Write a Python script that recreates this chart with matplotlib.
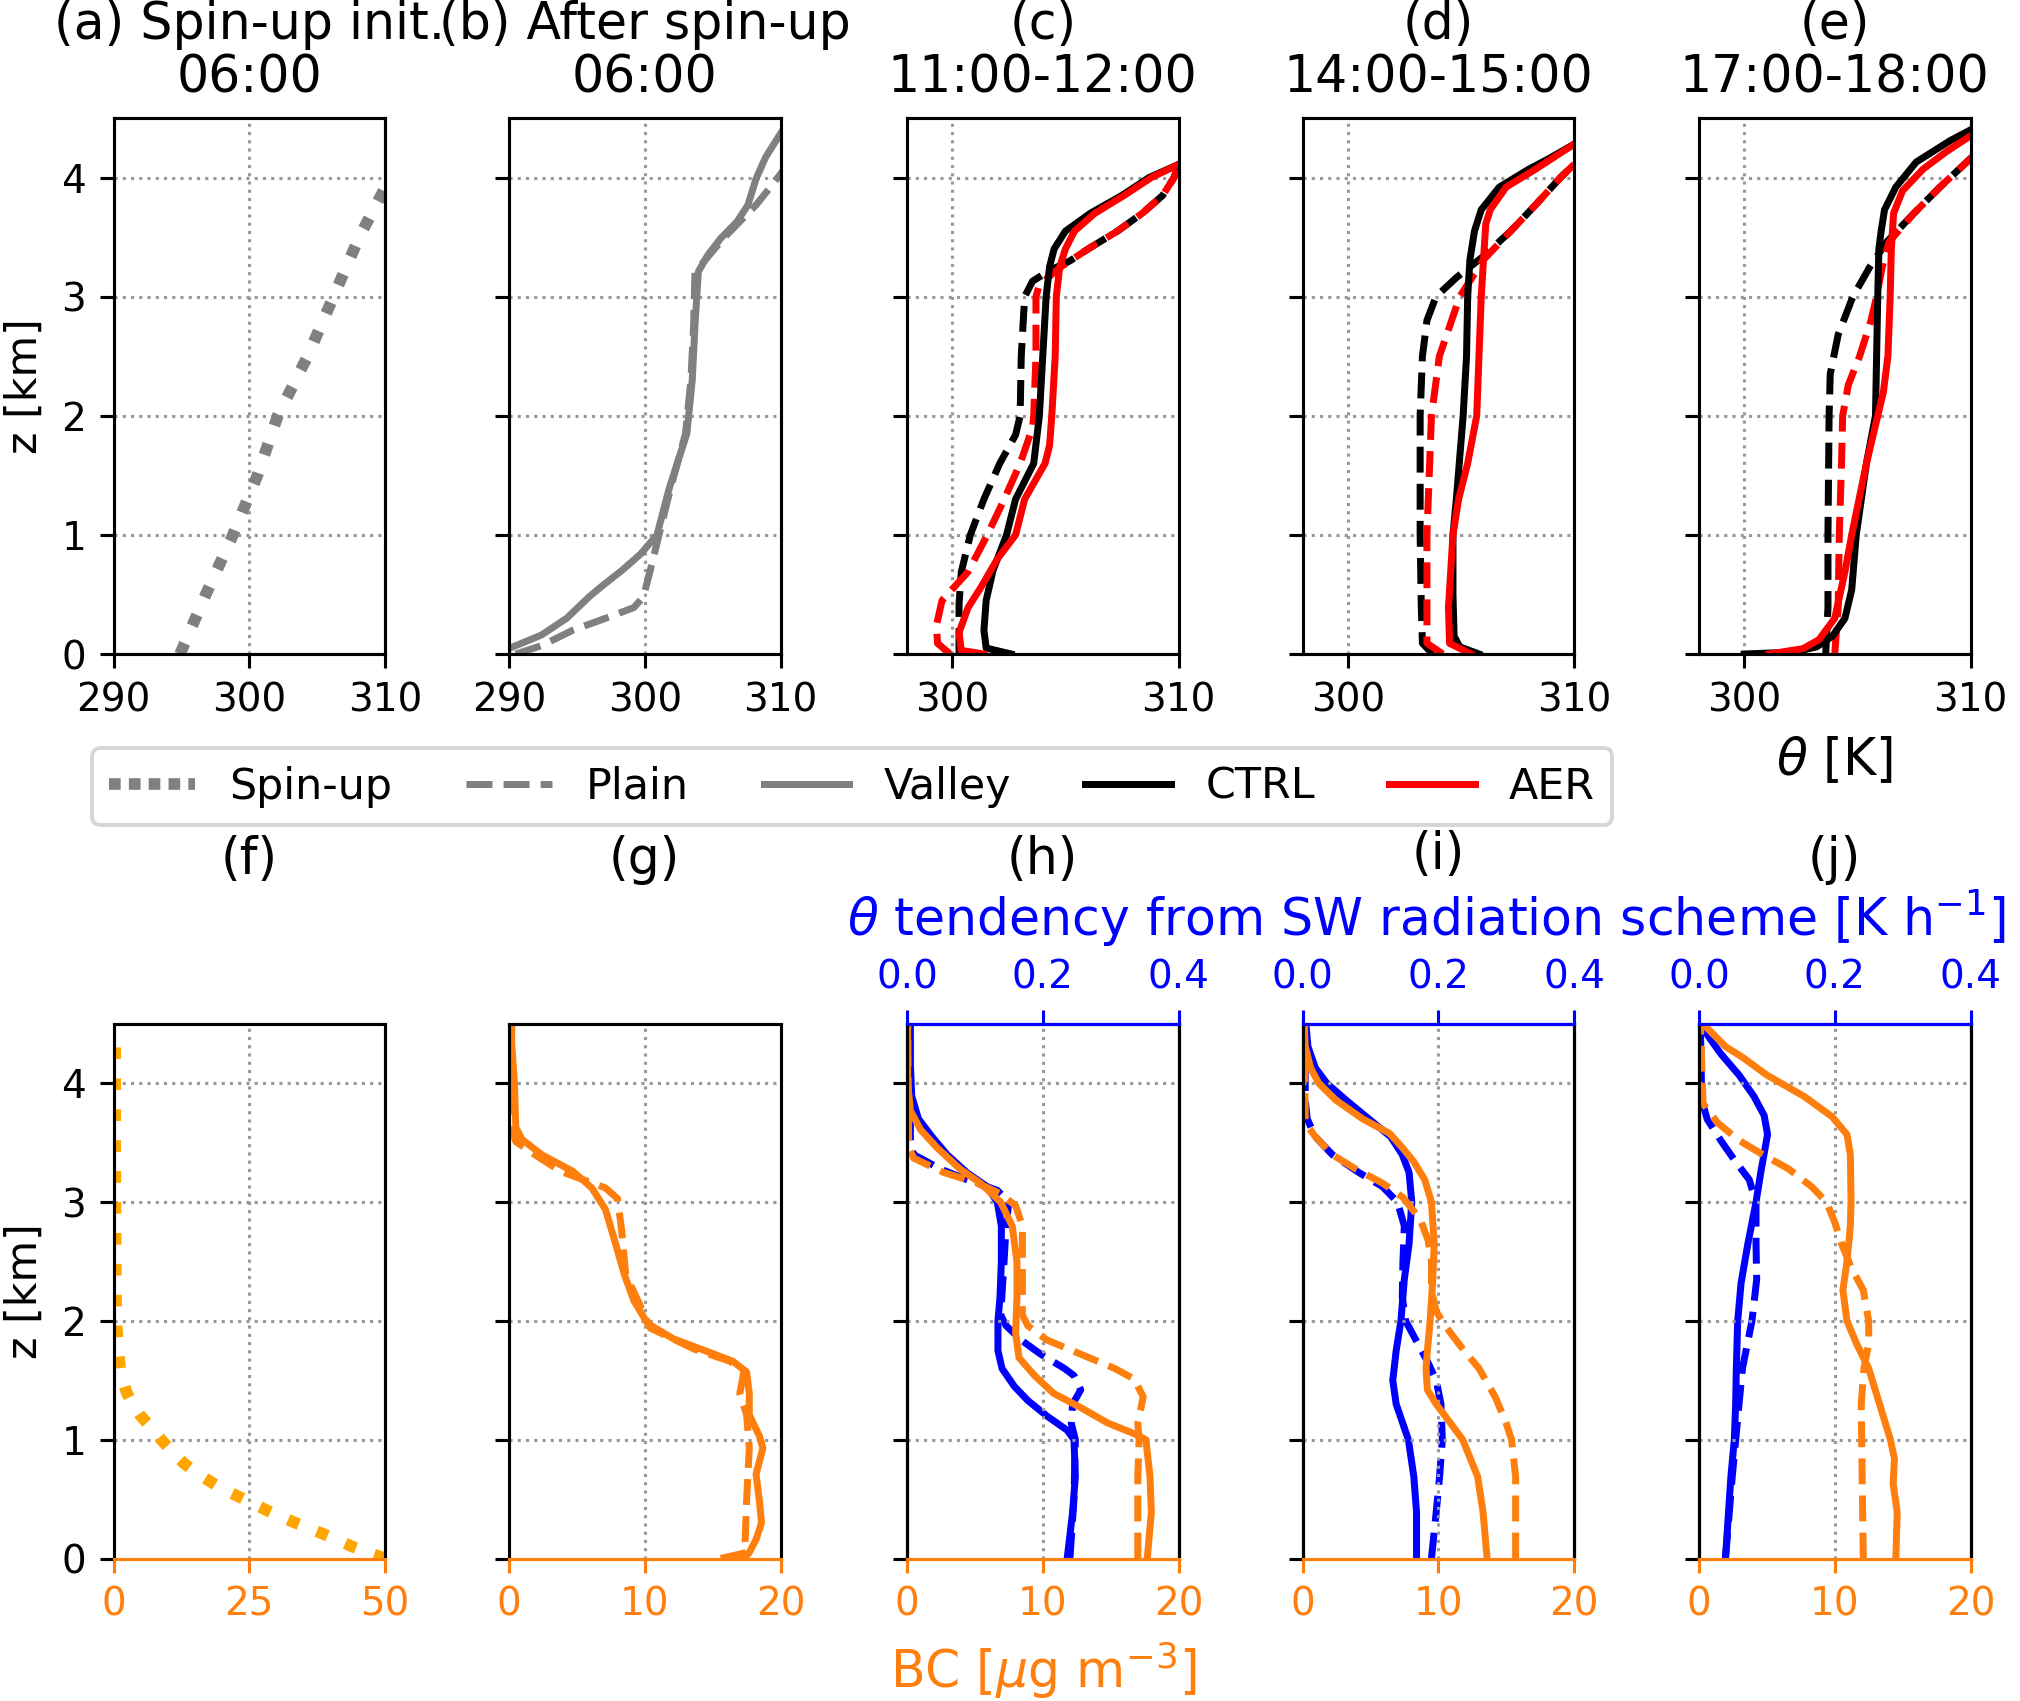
import matplotlib
matplotlib.use('Agg')
import matplotlib.pyplot as plt
from matplotlib.lines import Line2D

# ---------------- theta profiles (top row) ----------------
# (a) spin-up initial profile
a_spinup_z = [0, 0.5, 1.0, 1.5, 2.0, 2.5, 3.0, 3.5, 4.0, 4.5]
a_spinup_th = [294.9, 296.8, 298.8, 300.6, 302.1, 304.3, 306.2, 308.1, 310.4, 312.6]

# (b) after spin-up
b_valley_z = [0, 0.07, 0.16, 0.3, 0.48, 0.57, 0.7, 0.84, 1.0, 1.39, 1.85, 2.3, 2.76, 3.21,
              3.35, 3.49, 3.63, 3.77, 3.99, 4.17, 4.37, 4.5]
b_valley_th = [289.0, 290.5, 292.4, 294.25, 295.9, 296.85, 298.3, 299.7, 300.9, 301.8, 303.1,
               303.5, 303.7, 303.95, 304.65, 305.6, 306.8, 307.6, 308.2, 308.9, 310.0, 310.8]
b_plain_z = [0, 0.07, 0.2, 0.32, 0.39, 0.48, 0.7, 0.93, 1.39, 1.85, 2.3, 2.76, 3.21, 3.3,
             3.49, 3.63, 3.77, 3.94, 4.03, 4.5]
b_plain_th = [290.5, 292.4, 294.7, 297.6, 299.2, 299.9, 300.4, 300.9, 301.9, 303.0, 303.4,
              303.6, 303.7, 304.4, 305.8, 307.0, 308.2, 309.4, 310.0, 313.0]

# (c) 11:00-12:00
c_valley_ctrl_z = [0, 0.05, 0.2, 0.45, 0.7, 1.0, 1.3, 1.6, 2.0, 2.5, 3.0, 3.25, 3.4, 3.55,
                   3.7, 3.85, 4.0, 4.11, 4.5]
c_valley_ctrl_th = [302.6, 301.5, 301.4, 301.5, 301.8, 302.4, 302.8, 303.6, 303.85, 304.0,
                    304.15, 304.3, 304.5, 305.0, 306.1, 307.5, 308.7, 310.0, 314.0]
c_valley_aer_z = [0, 0.03, 0.18, 0.39, 0.57, 0.8, 1.0, 1.3, 1.6, 1.75, 2.0, 2.5, 3.0, 3.25,
                  3.4, 3.55, 3.7, 3.85, 4.0, 4.11, 4.5]
c_valley_aer_th = [301.4, 300.4, 300.3, 300.7, 301.3, 302.0, 302.8, 303.2, 304.1, 304.3,
                   304.4, 304.55, 304.6, 304.75, 305.0, 305.4, 306.3, 307.6, 308.8, 310.0, 314.0]
c_plain_ctrl_z = [0, 0.42, 0.69, 1.0, 1.3, 1.6, 1.84, 2.0, 2.5, 3.0, 3.13, 3.22, 3.3, 3.4,
                  3.55, 3.7, 3.85, 4.0, 4.1, 4.5]
c_plain_ctrl_th = [300.3, 300.3, 300.4, 300.8, 301.4, 302.1, 302.8, 303.0, 303.05, 303.2,
                   303.55, 304.3, 305.2, 306.0, 307.3, 308.4, 309.3, 309.8, 310.0, 313.0]
c_plain_aer_z = [0, 0.09, 0.24, 0.45, 0.69, 1.0, 1.3, 1.6, 1.9, 2.0, 2.5, 3.0, 3.1, 3.25,
                 3.4, 3.55, 3.7, 3.85, 4.0, 4.1, 4.5]
c_plain_aer_th = [299.9, 299.35, 299.3, 299.55, 300.7, 301.55, 302.3, 303.0, 303.55, 303.6,
                  303.7, 303.7, 303.85, 304.8, 306.0, 307.3, 308.4, 309.3, 309.8, 310.0, 313.0]

# (d) 14:00-15:00
d_valley_ctrl_z = [0, 0.06, 0.15, 0.5, 1.0, 1.3, 2.0, 2.5, 3.0, 3.31, 3.55, 3.73, 3.92,
                   4.07, 4.16, 4.28, 4.5]
d_valley_ctrl_th = [305.8, 304.95, 304.7, 304.65, 304.65, 304.8, 305.1, 305.25, 305.3,
                    305.4, 305.6, 305.9, 306.7, 308.0, 308.9, 310.0, 312.0]
d_valley_aer_z = [0, 0.09, 0.39, 1.0, 1.3, 1.6, 2.0, 2.5, 3.0, 3.31, 3.61, 3.73, 3.92,
                  4.07, 4.28, 4.5]
d_valley_aer_th = [305.45, 304.5, 304.45, 304.65, 304.9, 305.3, 305.7, 305.8, 305.9, 306.0,
                   306.1, 306.3, 307.0, 308.3, 310.0, 312.0]
d_plain_ctrl_z = [0, 0.09, 0.4, 1.0, 2.0, 2.5, 2.8, 3.0, 3.16, 3.34, 3.55, 3.77, 4.0, 4.11, 4.5]
d_plain_ctrl_th = [303.75, 303.3, 303.25, 303.2, 303.2, 303.3, 303.5, 303.9, 304.8, 306.0,
                   307.2, 308.3, 309.4, 310.0, 312.5]
d_plain_aer_z = [0, 0.09, 1.0, 2.0, 2.5, 3.0, 3.31, 3.55, 3.77, 4.0, 4.11, 4.5]
d_plain_aer_th = [304.2, 303.5, 303.5, 303.7, 304.05, 304.95, 306.0, 307.2, 308.3, 309.4,
                  310.0, 312.5]

# (e) 17:00-18:00
e_valley_ctrl_z = [0, 0.015, 0.06, 0.15, 0.3, 0.54, 1.0, 1.6, 2.0, 2.5, 3.0, 3.4, 3.55,
                   3.73, 3.92, 4.13, 4.31, 4.4, 4.5]
e_valley_ctrl_th = [300.0, 302.15, 303.2, 303.9, 304.45, 304.75, 304.95, 305.4, 305.8,
                    305.85, 305.9, 305.95, 306.05, 306.2, 306.7, 307.6, 309.1, 310.0, 311.3]
e_valley_aer_z = [0, 0.045, 0.12, 0.3, 0.69, 1.0, 1.6, 2.0, 2.2, 2.5, 3.0, 3.4, 3.7, 3.89,
                  4.07, 4.22, 4.35, 4.5]
e_valley_aer_th = [301.1, 302.6, 303.3, 304.0, 304.45, 304.75, 305.4, 305.9, 306.15, 306.35,
                   306.45, 306.5, 306.6, 307.0, 307.9, 308.95, 310.0, 311.2]
e_plain_ctrl_z = [0, 0.39, 1.0, 2.0, 2.35, 2.68, 3.0, 3.25, 3.46, 3.7, 3.92, 4.16, 4.5]
e_plain_ctrl_th = [303.6, 303.7, 303.7, 303.75, 303.8, 304.15, 304.8, 305.55, 306.3, 307.5,
                   308.65, 310.0, 312.0]
e_plain_aer_z = [0, 0.39, 1.0, 1.6, 2.0, 2.26, 2.5, 2.8, 3.0, 3.25, 3.46, 3.7, 3.92, 4.16, 4.5]
e_plain_aer_th = [304.0, 304.15, 304.2, 304.3, 304.35, 304.6, 305.1, 305.6, 305.85, 306.1,
                  306.4, 307.5, 308.65, 310.0, 312.0]

# ---------------- BC and SW heating (bottom row) ----------------
f_spinup_z = [0, 0.1, 0.2, 0.3, 0.4, 0.5, 0.6, 0.7, 0.8, 0.9, 1.0, 1.1, 1.2, 1.3, 1.4, 1.5,
              1.6, 1.8, 2.0, 2.5, 3.0, 3.5, 4.0, 4.35]
f_spinup_bc = [50, 44, 39, 33.5, 28.5, 24, 19.5, 16, 13, 10.8, 8.8, 7, 5, 3.5, 2.4, 1.7,
               1.2, 0.8, 0.5, 0.4, 0.35, 0.3, 0.3, 0.3]

g_valley_z = [0, 0.05, 0.16, 0.3, 0.48, 0.71, 0.93, 1.03, 1.21, 1.39, 1.57, 1.66, 1.76, 1.85,
              1.98, 2.17, 2.39, 2.67, 2.94, 3.12, 3.26, 3.4, 3.53, 3.63, 4.0, 4.5]
g_valley_bc = [17.3, 17.7, 18.2, 18.6, 18.45, 18.2, 18.7, 18.45, 17.7, 17.7, 17.5, 16.5, 14.2,
               12.1, 10.2, 9.2, 8.5, 7.8, 7.1, 6.1, 4.7, 2.4, 0.95, 0.5, 0.4, 0.1]
g_plain_z = [0, 0.05, 0.16, 0.48, 0.93, 1.21, 1.39, 1.57, 1.66, 1.76, 1.94, 2.17, 2.39, 2.76,
             3.03, 3.12, 3.26, 3.4, 3.51, 3.6, 4.5]
g_plain_bc = [15.6, 17.5, 17.4, 17.5, 17.7, 17.5, 17.0, 17.3, 16.3, 13.7, 10.4, 9.5, 8.6, 8.3,
              8.0, 7.1, 3.8, 1.9, 0.5, 0.2, 0.2]

h_valley_z = [0, 0.39, 0.69, 1.0, 1.05, 1.14, 1.27, 1.39, 1.54, 1.69, 1.9, 2.2, 2.5, 2.8, 3.0,
              3.16, 3.28, 3.46, 3.61, 3.77, 4.0, 4.5]
h_valley_bc = [17.7, 18.0, 17.9, 17.6, 16.75, 14.8, 12.8, 10.8, 9.4, 8.25, 8.0, 8.1, 8.1, 7.75,
               6.9, 5.4, 3.9, 2.2, 1.0, 0.25, 0.05, 0.05]
h_plain_z = [0, 0.69, 1.0, 1.14, 1.36, 1.51, 1.6, 1.72, 1.84, 1.96, 2.05, 2.5, 2.8, 2.97, 3.07,
             3.16, 3.25, 3.37, 3.46, 4.5]
h_plain_bc = [17.0, 17.0, 17.1, 17.0, 17.4, 16.75, 15.3, 12.8, 10.3, 8.9, 8.5, 8.5, 8.5, 8.0,
              6.9, 5.2, 2.7, 0.5, 0.12, 0.05]
h_valley_tz = [0, 0.39, 0.69, 1.0, 1.08, 1.2, 1.33, 1.45, 1.6, 1.75, 2.0, 2.2, 2.5, 2.8, 3.0,
               3.13, 3.25, 3.4, 3.55, 3.7, 3.89, 4.16, 4.5]
h_valley_tend = [0.236, 0.244, 0.248, 0.246, 0.236, 0.206, 0.178, 0.158, 0.140, 0.134, 0.134,
                 0.137, 0.139, 0.139, 0.133, 0.118, 0.088, 0.059, 0.037, 0.017, 0.007, 0.005, 0.005]
h_plain_tz = [0, 0.5, 1.0, 1.14, 1.3, 1.42, 1.54, 1.6, 1.72, 1.84, 1.96, 2.05, 2.5, 2.8, 3.0,
              3.1, 3.19, 3.28, 3.4, 3.49, 3.7, 4.5]
h_plain_tend = [0.240, 0.246, 0.248, 0.242, 0.244, 0.256, 0.246, 0.232, 0.197, 0.168, 0.146,
                0.138, 0.143, 0.146, 0.150, 0.133, 0.088, 0.049, 0.010, 0.005, 0.005, 0.004]

i_valley_z = [0, 0.39, 0.69, 1.0, 1.14, 1.3, 1.42, 1.6, 1.75, 2.0, 2.35, 2.65, 3.0, 3.19, 3.34,
              3.46, 3.58, 3.7, 3.86, 4.0, 4.13, 4.31, 4.5]
i_valley_bc = [13.6, 13.3, 12.9, 11.8, 10.9, 9.85, 9.2, 9.1, 9.2, 9.4, 9.6, 9.7, 9.5, 9.0, 8.2,
               7.35, 6.4, 4.45, 2.45, 1.2, 0.6, 0.2, 0.1]
i_plain_z = [0, 0.69, 1.0, 1.14, 1.36, 1.6, 1.78, 1.96, 2.08, 2.26, 2.5, 2.68, 2.86, 3.04, 3.16,
             3.28, 3.4, 3.55, 3.67, 4.5]
i_plain_bc = [15.7, 15.7, 15.4, 15.0, 14.2, 13.0, 11.7, 10.5, 9.85, 9.5, 9.5, 9.25, 8.65, 7.4,
              5.9, 3.9, 2.2, 0.95, 0.2, 0.15]
i_valley_tz = [0, 0.39, 0.69, 1.0, 1.3, 1.5, 1.75, 2.0, 2.35, 2.65, 3.0, 3.25, 3.4, 3.55, 3.7,
               3.86, 4.0, 4.13, 4.31, 4.5]
i_valley_tend = [0.168, 0.168, 0.164, 0.156, 0.138, 0.133, 0.138, 0.145, 0.150, 0.157, 0.161,
                 0.157, 0.147, 0.130, 0.098, 0.064, 0.036, 0.019, 0.008, 0.005]
i_plain_tz = [0, 0.39, 0.69, 1.0, 1.3, 1.5, 1.66, 1.84, 2.0, 2.2, 2.5, 2.8, 3.0, 3.13, 3.25,
              3.4, 3.55, 3.7, 3.86, 4.5]
i_plain_tend = [0.190, 0.197, 0.202, 0.206, 0.204, 0.197, 0.184, 0.167, 0.152, 0.147, 0.148,
                0.150, 0.140, 0.118, 0.083, 0.044, 0.019, 0.007, 0.004, 0.004]

j_valley_z = [0, 0.39, 0.63, 0.84, 1.0, 1.3, 1.6, 1.81, 2.0, 2.26, 2.5, 2.8, 3.0, 3.4, 3.57,
              3.72, 3.89, 4.07, 4.22, 4.31, 4.5]
j_valley_bc = [14.5, 14.6, 14.3, 14.4, 14.1, 13.3, 12.5, 11.6, 10.9, 10.6, 10.9, 11.15, 11.2,
               11.15, 10.9, 9.8, 7.75, 5.0, 3.2, 1.95, 0.3]
j_plain_z = [0, 1.3, 1.6, 1.81, 2.0, 2.26, 2.44, 2.65, 2.83, 3.0, 3.13, 3.28, 3.4, 3.52, 3.67,
             3.83, 4.5]
j_plain_bc = [12.1, 11.95, 12.15, 12.5, 12.5, 12.1, 11.25, 10.5, 10.0, 9.4, 8.3, 6.6, 4.7, 2.95,
              1.35, 0.3, 0.1]
j_valley_tz = [0, 0.69, 1.0, 1.3, 1.6, 2.0, 2.32, 2.65, 3.0, 3.25, 3.57, 3.73, 3.89, 4.07, 4.25,
               4.37, 4.5]
j_valley_tend = [0.039, 0.047, 0.052, 0.054, 0.055, 0.057, 0.062, 0.072, 0.084, 0.091, 0.101,
                 0.096, 0.081, 0.059, 0.032, 0.017, 0.002]
j_plain_tz = [0, 0.69, 1.3, 1.6, 2.0, 2.35, 2.65, 3.0, 3.19, 3.34, 3.52, 3.7, 3.86, 4.5]
j_plain_tend = [0.039, 0.049, 0.059, 0.064, 0.078, 0.085, 0.084, 0.084, 0.074, 0.054, 0.032,
                0.012, 0.004, 0.002]

top_titles = ['(a) Spin-up init.\n06:00', '(b) After spin-up\n06:00', '(c)\n11:00-12:00',
              '(d)\n14:00-15:00', '(e)\n17:00-18:00']
bottom_titles = ['(f)', '(g)', '(h)', '(i)', '(j)']

C_BC = '#ff7f0e'
C_TEND = 'blue'
LW = 1.8
FS_TITLE = 13
FS_LABEL = 13

W, H = 2020, 1701
fig = plt.figure(figsize=(W / 280, H / 280), dpi=280)
lefts = [113.5, 509, 907, 1302.5, 1699]
AXW = 271.5


def add_ax(col, top_px, bot_px):
    return fig.add_axes([lefts[col] / W, 1 - bot_px / H, AXW / W, (bot_px - top_px) / H])


def style(ax):
    ax.set_ylim(0, 4.5)
    ax.set_yticks([0, 1, 2, 3, 4])
    ax.grid(True, ls=':', color='0.6', lw=0.8)


# ---- top row ----
top_axes = [add_ax(i, 118, 654) for i in range(5)]
for i, ax in enumerate(top_axes):
    style(ax)
    ax.set_title(top_titles[i], fontsize=FS_TITLE, pad=6.5, linespacing=1.1)
    if i < 2:
        ax.set_xlim(290, 310)
        ax.set_xticks([290, 300, 310])
    else:
        ax.set_xlim(298, 310)
        ax.set_xticks([300, 310])
    if i > 0:
        ax.tick_params(labelleft=False)

top_axes[0].plot(a_spinup_th, a_spinup_z, color='grey', ls=':', lw=3)
top_axes[0].set_ylabel('z [km]', fontsize=11)
top_axes[1].plot(b_plain_th, b_plain_z, color='grey', ls='--', lw=LW)
top_axes[1].plot(b_valley_th, b_valley_z, color='grey', ls='-', lw=LW)

theta_sets = [
    (c_valley_ctrl_th, c_valley_ctrl_z, c_valley_aer_th, c_valley_aer_z,
     c_plain_ctrl_th, c_plain_ctrl_z, c_plain_aer_th, c_plain_aer_z),
    (d_valley_ctrl_th, d_valley_ctrl_z, d_valley_aer_th, d_valley_aer_z,
     d_plain_ctrl_th, d_plain_ctrl_z, d_plain_aer_th, d_plain_aer_z),
    (e_valley_ctrl_th, e_valley_ctrl_z, e_valley_aer_th, e_valley_aer_z,
     e_plain_ctrl_th, e_plain_ctrl_z, e_plain_aer_th, e_plain_aer_z),
]
for ax, (vct, vcz, vat, vaz, pct, pcz, pat, paz) in zip(top_axes[2:], theta_sets):
    ax.plot(pct, pcz, color='k', ls='--', lw=LW)
    ax.plot(pat, paz, color='r', ls='--', lw=LW)
    ax.plot(vct, vcz, color='k', ls='-', lw=LW)
    ax.plot(vat, vaz, color='r', ls='-', lw=LW)
top_axes[4].set_xlabel(r'$\theta$ [K]', fontsize=FS_LABEL)

# ---- bottom row ----
bot_axes = [add_ax(i, 1024, 1558.5) for i in range(5)]
for i, ax in enumerate(bot_axes):
    style(ax)
    if i == 0:
        ax.set_xlim(0, 50)
        ax.set_xticks([0, 25, 50])
    else:
        ax.set_xlim(0, 20)
        ax.set_xticks([0, 10, 20])
        ax.tick_params(labelleft=False)
    ax.tick_params(axis='x', colors=C_BC)
    ax.spines['bottom'].set_color(C_BC)
    ty = 1.317 if i == 3 else 1.306
    ax.text(0.5, ty, bottom_titles[i], transform=ax.transAxes, ha='center', va='center',
            fontsize=FS_TITLE)

bot_axes[0].plot(f_spinup_bc, f_spinup_z, color='orange', ls=':', lw=3)
bot_axes[0].set_ylabel('z [km]', fontsize=11)
bot_axes[1].plot(g_plain_bc, g_plain_z, color=C_BC, ls='--', lw=LW)
bot_axes[1].plot(g_valley_bc, g_valley_z, color=C_BC, ls='-', lw=LW)

bc_sets = [
    (h_valley_bc, h_valley_z, h_plain_bc, h_plain_z,
     h_valley_tend, h_valley_tz, h_plain_tend, h_plain_tz),
    (i_valley_bc, i_valley_z, i_plain_bc, i_plain_z,
     i_valley_tend, i_valley_tz, i_plain_tend, i_plain_tz),
    (j_valley_bc, j_valley_z, j_plain_bc, j_plain_z,
     j_valley_tend, j_valley_tz, j_plain_tend, j_plain_tz),
]
for k, (ax, (vb, vz, pb, pz, vt, vtz, pt, ptz)) in enumerate(zip(bot_axes[2:], bc_sets)):
    tw = ax.twiny()
    tw.set_xlim(0, 0.4)
    tw.set_xticks([0.0, 0.2, 0.4])
    tw.set_xticklabels(['0.0', '0.2', '0.4'])
    tw.tick_params(axis='x', colors=C_TEND)
    tw.spines['top'].set_color(C_TEND)
    tw.spines['bottom'].set_visible(False)
    ax.spines['top'].set_color(C_TEND)
    tw.plot(pt, ptz, color=C_TEND, ls='--', lw=LW)
    tw.plot(vt, vtz, color=C_TEND, ls='-', lw=LW)
    # BC curves above the heating-rate curves
    ax.set_zorder(tw.get_zorder() + 1)
    ax.patch.set_visible(False)
    ax.plot(pb, pz, color=C_BC, ls='--', lw=LW)
    ax.plot(vb, vz, color=C_BC, ls='-', lw=LW)
    if k == 1:
        tw.set_xlabel(r'$\theta$ tendency from SW radiation scheme [K h$^{-1}$]',
                      color=C_TEND, fontsize=FS_LABEL)
        tw.xaxis.set_label_coords(0.455, 1.165)
bot_axes[2].set_xlabel(r'BC [$\mu$g m$^{-3}$]', color=C_BC, fontsize=FS_LABEL)

# ---- legend ----
handles = [
    Line2D([], [], color='grey', ls=(0, (1, 0.7)), lw=3),
    Line2D([], [], color='grey', ls='--', lw=LW),
    Line2D([], [], color='grey', ls='-', lw=LW),
    Line2D([], [], color='k', ls='-', lw=LW),
    Line2D([], [], color='r', ls='-', lw=LW),
]
labels = ['Spin-up', 'Plain', 'Valley', 'CTRL', 'AER']
fig.legend(handles, labels, ncol=5, mode='expand', loc='center', handlelength=2.0,
           fontsize=11, bbox_to_anchor=(70.6 / W, 1 - 786.5 / H, 1563 / W, 0))

fig.savefig('out.png', dpi=280)
